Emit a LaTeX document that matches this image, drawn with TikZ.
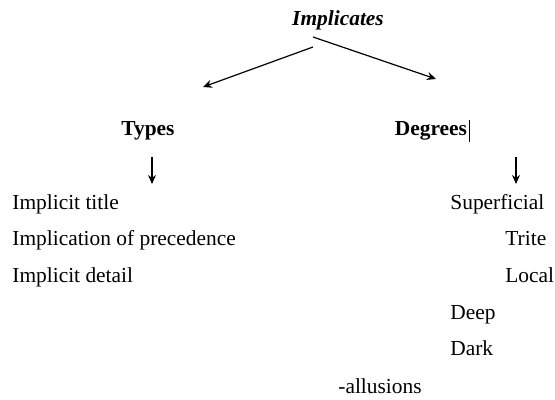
\documentclass[tikz,border=0pt]{standalone}
\usepackage{fontspec}
\setmainfont{Liberation Serif}
\usetikzlibrary{arrows.meta}

\begin{document}
\begin{tikzpicture}[x=0.5pt, y=-0.5pt,
    every node/.style={inner sep=0pt, font=\fontsize{10.7}{12}\selectfont},
    item/.style={anchor=base west},
    head/.style={anchor=base, font=\fontsize{10.7}{12}\selectfont\bfseries},
    link/.style={-{Stealth[length=4.5pt, width=4pt]}, line width=0.6pt}
]
\useasboundingbox (0,0) rectangle (555,400);
% ---- TOP ----
\node[anchor=base, font=\fontsize{10.7}{12}\selectfont\bfseries\itshape] (imp) at (338,26) {Implicates};
\coordinate (impL) at (313,47);
\coordinate (impR) at (313,37);
\coordinate (typTop) at (203,87);
\coordinate (degTop) at (436,79);
\draw[link] (impL) -- (typTop);
\draw[link] (impR) -- (degTop);

% ---- TYPES ----
\node[head] (types) at (148,136) {Types};
\coordinate (typA) at (152,157);
\coordinate (typB) at (152,184);
\draw[link] (typA) -- (typB);
\node[item] (t1) at (12,210) {Implicit title};
\node[item] (t2) at (12,246) {Implication of precedence};
\node[item] (t3) at (12,282) {Implicit detail};

% ---- DEGREES ----
\node[head] (deg) at (431,136) {Degrees};
\draw[line width=0.6pt] ([xshift=1pt]deg.east |- 0,120) -- ([xshift=1pt]deg.east |- 0,142);
\coordinate (degA) at (516,157);
\coordinate (degB) at (516,184);
\draw[link] (degA) -- (degB);
\node[item] (d1) at (450,210) {Superficial};
\node[item] (d2) at (505,246) {Trite};
\node[item] (d3) at (505,282) {Local};
\node[item] (d4) at (450,319) {Deep};
\node[item] (d5) at (450,355) {Dark};
\node[item] (d6) at (338,393) {-allusions};
\end{tikzpicture}
\end{document}
